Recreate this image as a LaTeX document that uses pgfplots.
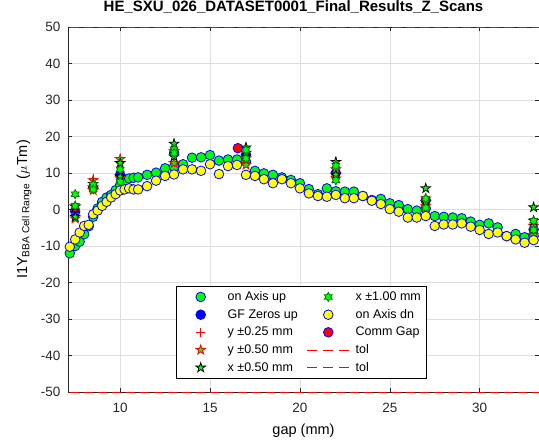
\documentclass[border=0pt]{standalone}
\usepackage{fontspec}
\setmainfont{Liberation Sans}
\usepackage{pgfplots}
\pgfplotsset{compat=1.18}

\definecolor{mgreen}{rgb}{0,1,0}
\definecolor{myellow}{rgb}{1,1,0}
\definecolor{mblue}{rgb}{0,0,1}
\definecolor{mred}{rgb}{1,0,0}
\definecolor{mdkgreen}{rgb}{0,0.45,0}
\definecolor{tickgray}{rgb}{0.15,0.15,0.15}

\pgfdeclareplotmark{pentagram}{%
  \pgfpathmoveto{\pgfpointpolar{90}{\pgfplotmarksize}}%
  \pgfpathlineto{\pgfpointpolar{126}{0.382\pgfplotmarksize}}%
  \pgfpathlineto{\pgfpointpolar{162}{\pgfplotmarksize}}%
  \pgfpathlineto{\pgfpointpolar{198}{0.382\pgfplotmarksize}}%
  \pgfpathlineto{\pgfpointpolar{234}{\pgfplotmarksize}}%
  \pgfpathlineto{\pgfpointpolar{270}{0.382\pgfplotmarksize}}%
  \pgfpathlineto{\pgfpointpolar{306}{\pgfplotmarksize}}%
  \pgfpathlineto{\pgfpointpolar{342}{0.382\pgfplotmarksize}}%
  \pgfpathlineto{\pgfpointpolar{18}{\pgfplotmarksize}}%
  \pgfpathlineto{\pgfpointpolar{54}{0.382\pgfplotmarksize}}%
  \pgfpathclose
  \pgfusepathqfillstroke
}
\pgfdeclareplotmark{hexagram}{%
  \pgfpathmoveto{\pgfpointpolar{90}{\pgfplotmarksize}}%
  \pgfpathlineto{\pgfpointpolar{120}{0.577\pgfplotmarksize}}%
  \pgfpathlineto{\pgfpointpolar{150}{\pgfplotmarksize}}%
  \pgfpathlineto{\pgfpointpolar{180}{0.577\pgfplotmarksize}}%
  \pgfpathlineto{\pgfpointpolar{210}{\pgfplotmarksize}}%
  \pgfpathlineto{\pgfpointpolar{240}{0.577\pgfplotmarksize}}%
  \pgfpathlineto{\pgfpointpolar{270}{\pgfplotmarksize}}%
  \pgfpathlineto{\pgfpointpolar{300}{0.577\pgfplotmarksize}}%
  \pgfpathlineto{\pgfpointpolar{330}{\pgfplotmarksize}}%
  \pgfpathlineto{\pgfpointpolar{0}{0.577\pgfplotmarksize}}%
  \pgfpathlineto{\pgfpointpolar{30}{\pgfplotmarksize}}%
  \pgfpathlineto{\pgfpointpolar{60}{0.577\pgfplotmarksize}}%
  \pgfpathclose
  \pgfusepathqfillstroke
}

\pgfplotsset{
  mk/.style={only marks,
    legend image code/.code={\path[draw=none, fill=none] (0pt,-3pt) rectangle (42pt,3pt);
      \draw[mark repeat=2,mark phase=2,##1] plot coordinates {(0pt,0pt) (21pt,0pt) (42pt,0pt)};}},
  tolline/.style={color=mred, draw=mred, line width=0.8pt, dash pattern=on 9pt off 5pt, dash phase=-2pt},
  tolleg/.style={legend image code/.code={\path[draw=none, fill=none] (0pt,-3pt) rectangle (42pt,3pt);
      \draw[color=mred, draw=mred, line width=0.8pt, dash pattern=on 10pt off 6pt] (0pt,0pt) -- (42pt,0pt);}},
}

\begin{document}
\begin{tikzpicture}
\begin{axis}[
  scale only axis,
  width=471pt, height=365pt,
  xmin=7.1, xmax=33.3,
  ymin=-50, ymax=50,
  xtick={10,15,20,25,30},
  ytick={-50,-40,...,50},
  tick align=inside,
  major tick length=4pt,
  axis line style={tickgray, line width=0.6pt},
  every tick/.style={tickgray, line width=0.5pt},
  grid=major,
  major grid style={black!13, line width=0.5pt},
  /pgf/number format/assume math mode=true,
  tick label style={font=\fontsize{13.5}{15}\selectfont, text=tickgray},
  xticklabel style={anchor=base, yshift=-20.5pt},
  yticklabel style={xshift=-4pt},
  title={HE\_SXU\_026\_DATASET0001\_Final\_Results\_Z\_Scans},
  title style={font=\bfseries\fontsize{15}{17}\selectfont, at={(0.5,1)}, anchor=base, yshift=9pt, xshift=-10pt},
  xlabel={gap (mm)},
  xlabel style={font=\fontsize{14.5}{16}\selectfont, at={(0.5,0)}, anchor=base, yshift=-42pt},
  ylabel={I1Y\textsubscript{BBA Cell Range} ($\mu$Tm)},
  ylabel style={font=\fontsize{14.5}{16}\selectfont, at={(axis description cs:-0.087,0.5)}, anchor=base},
  legend cell align=left,
  legend columns=5,
  transpose legend,
  legend style={name=leg, at={(0.2304,0.038)}, anchor=south west, draw=none, fill=white,
    font=\fontsize{12.5}{14}\selectfont, inner xsep=3pt, inner ysep=3pt, row sep=3.2pt,
    /tikz/every odd column/.append style={column sep=4pt},
    /tikz/every even column/.append style={column sep=7pt}},
]
% tol lines (drawn first, legend entries added below)
\addplot[tolline, forget plot] coordinates {(7.1,50) (33.3,50)};
\addplot[tolline, forget plot] coordinates {(7.1,-50) (33.3,-50)};
% on Axis up
\addplot[mk, color=mblue, mark=*, mark size=4.8pt, mark options={fill=mgreen, draw=mblue, line width=0.8pt}] coordinates {
(7.2,-12.0) (7.5,-10.0) (7.75,-8.8) (8.0,-6.8) (8.25,-4.6) (8.5,-2.0) (8.75,0.3) (9.0,2.1) (9.25,3.3) (9.5,4.0) (9.75,5.3) (10.0,6.7) (10.25,7.6) (10.5,8.5) (10.75,8.7) (11.0,8.8) (11.5,9.5) (12.0,10.1) (12.5,11.3) (13.0,11.7) (13.5,12.4) (14.0,14.2) (14.5,14.3) (15.0,14.9) (15.5,13.4) (16.0,13.7) (16.5,13.7) (17.0,13.1) (17.5,10.6) (18.0,9.9) (18.5,9.5) (19.0,8.8) (19.5,8.1) (20.0,7.2) (20.5,5.6) (21.0,4.2) (21.5,5.8) (22.0,5.0) (22.5,4.9) (23.0,4.9) (23.5,3.7) (24.0,2.6) (24.5,2.9) (25.0,1.7) (25.5,1.2) (26.0,0.1) (26.5,-0.3) (27.0,0.3) (27.5,-1.8) (28.0,-2.0) (28.5,-2.2) (29.0,-2.4) (29.5,-3.3) (30.0,-4.2) (30.5,-3.8) (31.0,-4.9) (31.5,-7.3) (32.0,-6.7) (32.5,-7.6) (33.0,-7.3)
};
\addlegendentry{on Axis up}
% GF Zeros up
\addplot[mk, color=mblue, mark=*, mark size=4.8pt, mark options={fill=mblue, draw=mblue, line width=0.8pt}] coordinates {
(7.5,-0.5) (8.5,6.0) (10.0,9.5) (13.0,15.5) (17.0,15.0) (22.0,10.0) (27.0,2.5) (33.0,-5.5)
};
\addlegendentry{GF Zeros up}
% y +-0.25
\addplot[mk, color=mred, mark=+, mark size=4.5pt, mark options={draw=mred, line width=0.8pt}] coordinates {
(7.5,-0.3) (7.5,-1.0) (8.5,8.5) (8.5,5.5) (10.0,13.2) (10.0,9.0) (13.0,15.5) (13.0,13.0) (17.0,14.5) (17.0,13.0) (22.0,11.5) (22.0,9.0) (27.0,2.5) (27.0,1.5) (33.0,-4.8) (33.0,-6.5)
};
\addlegendentry{y ±0.25 mm}
% y +-0.50
\addplot[mk, color=mred, mark=pentagram, mark size=5pt, mark options={fill=mgreen, draw=mred, line width=0.8pt}] coordinates {
(7.5,-2.5) (7.5,0.8) (8.5,8.0) (8.5,5.3) (10.0,13.8) (10.0,8.5) (13.0,16.0) (13.0,12.7) (17.0,14.0) (17.0,12.2) (22.0,11.0) (22.0,8.5) (27.0,3.0) (27.0,1.0) (33.0,-4.5) (33.0,-7.0)
};
\addlegendentry{y ±0.50 mm}
% x +-0.50
\addplot[mk, color=black, mark=pentagram, mark size=5pt, mark options={fill=mgreen, draw=black, line width=0.8pt}] coordinates {
(7.5,0.8) (7.5,-2.0) (8.5,7.0) (8.5,6.0) (10.0,12.7) (10.0,9.0) (13.0,18.0) (13.0,14.5) (17.0,17.0) (17.0,15.5) (22.0,13.0) (22.0,9.5) (27.0,5.8) (27.0,2.0) (33.0,0.6) (33.0,-3.1)
};
\addlegendentry{x ±0.50 mm}
% x +-1.00
\addplot[mk, color=mdkgreen, mark=hexagram, mark size=4.5pt, mark options={fill=mgreen, draw=mdkgreen, line width=0.8pt}] coordinates {
(7.5,4.2) (7.5,1.0) (8.5,6.8) (8.5,5.5) (10.0,11.0) (10.0,7.6) (13.0,16.5) (13.0,15.5) (17.0,16.3) (17.0,14.0) (22.0,12.0) (22.0,8.0) (27.0,3.0) (27.0,0.5) (33.0,-3.1) (33.0,-5.6)
};
\addlegendentry{x ±1.00 mm}
% on Axis dn
\addplot[mk, color=mblue, mark=*, mark size=4.8pt, mark options={fill=myellow, draw=mblue, line width=0.8pt}] coordinates {
(7.2,-10.2) (7.5,-8.2) (7.75,-6.3) (8.0,-4.5) (8.25,-4.2) (8.5,-1.3) (8.75,-0.3) (9.0,1.0) (9.25,2.1) (9.5,3.3) (9.75,4.2) (10.0,5.2) (10.25,5.5) (10.5,5.8) (10.75,5.5) (11.0,5.5) (11.5,6.4) (12.0,7.9) (12.5,9.2) (13.0,9.6) (13.5,11.0) (14.0,11.0) (14.5,10.6) (15.0,12.4) (15.5,9.7) (16.0,11.9) (16.5,12.2) (17.0,9.5) (17.5,9.2) (18.0,8.3) (18.5,7.2) (19.0,8.3) (19.5,7.2) (20.0,5.8) (20.5,4.4) (21.0,3.7) (21.5,3.5) (22.0,4.0) (22.5,3.1) (23.0,3.1) (23.5,3.7) (24.0,2.4) (24.5,1.5) (25.0,0.1) (25.5,-0.6) (26.0,-2.2) (26.5,-2.2) (27.0,-1.8) (27.5,-4.5) (28.0,-4.1) (28.5,-4.1) (29.0,-3.8) (29.5,-4.7) (30.0,-5.6) (30.5,-6.7) (31.0,-6.3) (31.5,-7.3) (32.0,-8.2) (32.5,-9.1) (33.0,-8.4)
};
\addlegendentry{on Axis dn}
% Comm Gap
\addplot[mk, color=mblue, mark=*, mark size=4.8pt, mark options={fill=mred, draw=mblue, line width=0.8pt}] coordinates {
(16.55,16.8)
};
\addlegendentry{Comm Gap}
\addlegendimage{tolleg}
\addlegendentry{tol}
\addlegendimage{tolleg}
\addlegendentry{tol}
\end{axis}
\draw[black, line width=0.6pt] (leg.south west) rectangle (leg.north east);
\pgfresetboundingbox
\path ([xshift=-68pt,yshift=-52pt]current axis.south west) rectangle ([xshift=0pt,yshift=27pt]current axis.north east);
\end{tikzpicture}
\end{document}
